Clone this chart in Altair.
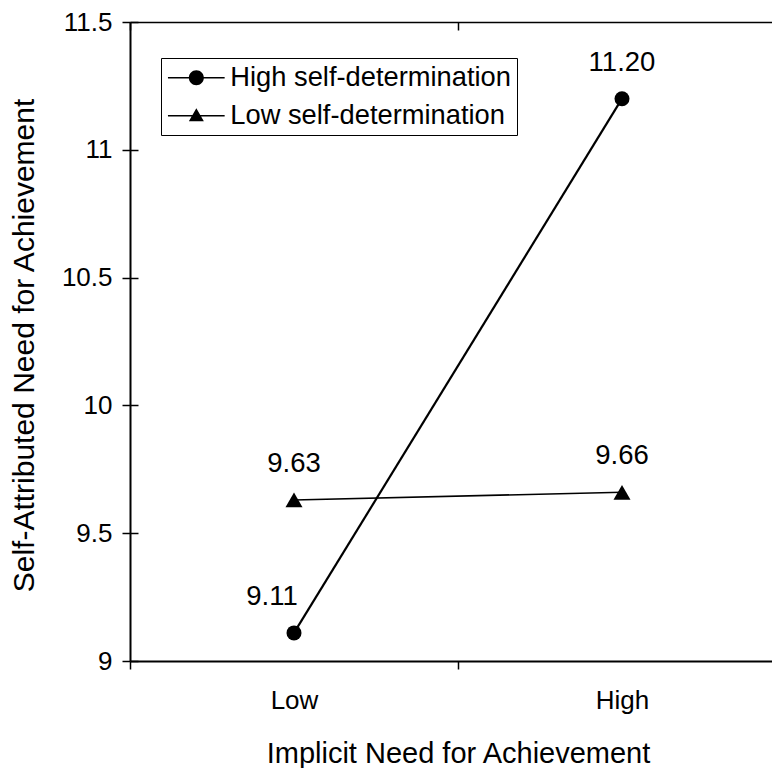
import json
import altair as alt
import pandas as pd

# ---- data ----
levels = ["Low", "High"]
series = ["High self-determination", "Low self-determination"]
high_sd = [9.11, 11.20]
low_sd = [9.63, 9.66]
y_ticks = [9, 9.5, 10, 10.5, 11, 11.5]
x_title = "Implicit Need for Achievement"
y_title = "Self-Attributed Need for Achievement"

rows = []
for s, vals in zip(series, [high_sd, low_sd]):
    for lv, v in zip(levels, vals):
        rows.append({"level": lv, "series": s, "value": v})
df = pd.DataFrame(rows)

FONT = "Liberation Sans"
INK = "black"
PAD_L, PAD_T = 122, 14
W, H = 642, 639
TOTAL_H = 760
STEP = 328  # pixel width of one category band

base = alt.Chart(df).transform_calculate(
    xpos=f"indexof({json.dumps(levels)}, datum.level) + 0.5"
)

xscale = alt.Scale(domain=[0, W / STEP], nice=False, zero=False)
yscale = alt.Scale(domain=[9, 11.5], nice=False, zero=False)

yaxis = alt.Axis(
    values=y_ticks, format="~f", title=y_title,
    tickSize=8, labelPadding=10, titlePadding=22,
    labelFontSize=26, titleFontSize=30, titleY=323,
    grid=True, gridDash=[8, 2000],
)
y_enc = alt.Y("value:Q", scale=yscale, axis=yaxis)

x_none = alt.X("xpos:Q", scale=xscale, axis=None)

lines = base.mark_line(color=INK).encode(
    x=alt.X("xpos:Q", scale=xscale,
            axis=alt.Axis(orient="top", labels=False, ticks=False, grid=False,
                          title=None, domainWidth=1.5)),
    y=y_enc,
    detail="series:N",
    strokeWidth=alt.StrokeWidth("series:N", scale=alt.Scale(domain=series, range=[2.2, 1.6]),
                                legend=None),
)

points = base.mark_point(filled=True, opacity=1, color=INK).encode(
    x=alt.X("xpos:Q", scale=xscale,
            axis=alt.Axis(values=[0, 1], orient="bottom",
                          labelExpr=f"datum.value == 0 ? '{levels[0]}' : '{levels[1]}'",
                          labelOffset=STEP / 2, labelFlush=False, labelOverlap=False,
                          tickSize=8, labelPadding=18, labelFontSize=26,
                          title=x_title, titleFontSize=29, titlePadding=26,
                          titleX=STEP, titleAnchor="middle",
                          grid=True, gridDash=[8, 2000])),
    y=y_enc,
    shape=alt.Shape("series:N", scale=alt.Scale(domain=series, range=["circle", "triangle-up"]),
                    legend=None),
    size=alt.Size("series:N", scale=alt.Scale(domain=series, range=[225, 290]), legend=None),
)

special = f"datum.level == '{levels[0]}' && datum.series == '{series[0]}'"
labels_main = base.transform_filter(f"!({special})").mark_text(
    dy=-36, fontSize=27.5, font=FONT, color=INK
).encode(x=x_none, y=y_enc, text=alt.Text("value:Q", format=".2f"))
labels_shift = base.transform_filter(special).mark_text(
    dy=-36, dx=-22, fontSize=27.5, font=FONT, color=INK
).encode(x=x_none, y=y_enc, text=alt.Text("value:Q", format=".2f"))

# legend glyphs: short line segment with the marker, drawn as filled shapes
def seg(x0, x1, hw=0.075):
    return f"M{x0},{-hw}H{x1}V{hw}H{x0}Z"

cx = 1.57
circle_path = (seg(-1.27, cx - 0.6) + seg(cx + 0.6, 4.4)
               + f"M{cx + 0.75},0A0.75,0.75,0,1,1,{cx - 0.75},0A0.75,0.75,0,1,1,{cx + 0.75},0Z")
tri_path = (seg(-1.27, cx - 0.4) + seg(cx + 0.4, 4.4)
            + f"M{cx},-0.75L{cx + 0.75},0.55L{cx - 0.75},0.55Z")

legend_layer = base.transform_filter("false").mark_point(
    filled=True, color=INK, opacity=1
).encode(
    x=x_none, y=y_enc,
    shape=alt.Shape("series:N",
                    scale=alt.Scale(domain=series, range=[circle_path, tri_path]),
                    legend=alt.Legend(
                        title=None, orient="none", legendX=31, legendY=36,
                        strokeColor=INK, padding=6, rowPadding=10,
                        labelFontSize=27.3, labelFont=FONT, labelColor=INK,
                        labelLimit=0, labelOffset=36, symbolSize=400,
                        symbolFillColor=INK, symbolStrokeWidth=0, symbolOpacity=1,
                    )),
)

chart = alt.layer(lines, points, labels_main, labels_shift, legend_layer).resolve_scale(
    shape="independent", size="independent", strokeWidth="independent"
).resolve_axis(x="independent").resolve_legend(shape="independent").properties(
    width=W, height=H,
    autosize=alt.AutoSizeParams(type="none"),
    padding={"left": PAD_L, "top": PAD_T, "right": 0, "bottom": TOTAL_H - PAD_T - H},
    background="white",
).configure_view(stroke=None).configure_axis(
    labelFont=FONT, titleFont=FONT, labelColor=INK, titleColor=INK,
    titleFontWeight="normal", domainColor=INK, tickColor=INK, gridColor=INK,
    domainWidth=2, tickWidth=1.5, gridWidth=1.5, gridOpacity=1,
)

chart.save("out.html", embed_options={"renderer": "svg", "actions": False})
